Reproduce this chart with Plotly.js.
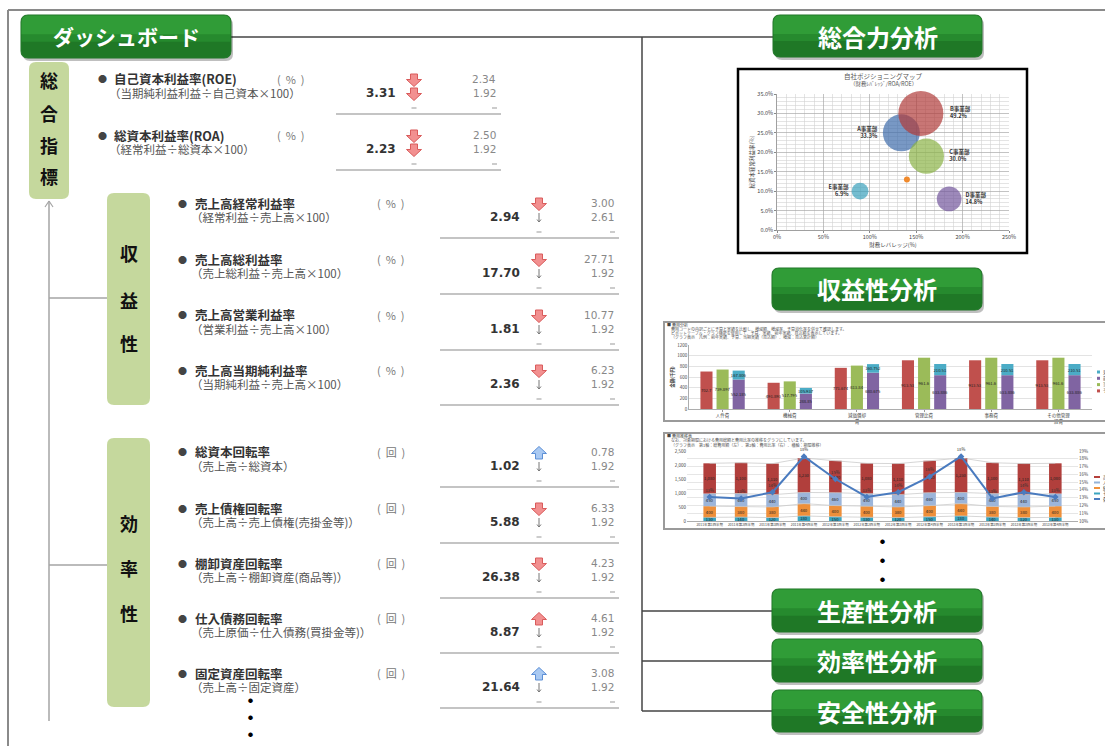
<!DOCTYPE html>
<html><head><meta charset="utf-8">
<script src="https://cdn.plot.ly/plotly-3.0.1.min.js"></script>
<style>html,body{margin:0;padding:0;background:#fff;overflow:hidden}#chart{width:1105px;height:746px}</style>
</head><body><div id="chart"></div>
<script>
// ================= DATA =================
// 総合力分析 : 自社ポジショニングマップ
const divisions = ["A事業部", "B事業部", "C事業部", "D事業部", "E事業部"];
const leverage = [134, 155, 161, 185.5, 89.5];        // 財務レバレッジ(%)
const ordinaryRoa = [25.0, 30.0, 19.0, 8.0, 10.0];   // 総資本経常利益率(%)
const roeShare = [33.3, 49.2, 30.0, 14.8, 6.9];      // bubble value (%)
const ownLeverage = [140];
const ownRoa = [13.0];

// 収益性分析 : 費用分析
const costCategories = ["人件費", "機械費", "減価償却<br>費", "管理比費", "事務費", "その他管理<br>経費"];
const budget = [702.70, 491.893, 771.674, 913.53, 913.53, 913.53];
const actual = [739.897, 517.795, 813.84, 961.6, 961.6, 961.6];
const prevYear = [552.185, 288.85, 680.675, 633.886, 633.886, 633.886];
const forecast = [167.806, 105.937, 160.752, 210.51, 210.51, 210.51];

// 費用推移表
const quarters = ["2011年第1四半期", "2011年第2四半期", "2011年第3四半期", "2011年第4四半期",
  "2012年第1四半期", "2012年第2四半期", "2012年第3四半期", "2012年第4四半期",
  "2013年第1四半期", "2013年第2四半期", "2013年第3四半期", "2013年第4四半期"];
const costOther = [130, 140, 120, 180, 150, 130, 120, 150, 180, 140, 120, 130];
const costExpense = [400, 380, 380, 440, 400, 400, 380, 400, 440, 380, 380, 400];
const costLabor = [450, 460, 440, 400, 460, 450, 440, 460, 400, 460, 440, 450];
const costSales = [1080, 1100, 1110, 1230, 1140, 1080, 1110, 1140, 1230, 1100, 1110, 1080];
const costRatio = [13.1, 12.9, 13.7, 18.3, 15.4, 13.1, 13.7, 15.7, 18.3, 12.9, 13.7, 13.1];

// ダッシュボード
const overallNames = ["自己資本利益率(ROE)", "総資本利益率(ROA)"];
const overallFormulas = ["（当期純利益利益÷自己資本×100）", "（経常利益÷総資本×100）"];
const overallUnits = ["%", "%"];
const overallValues = [3.31, 2.23];
const overallRef1 = [2.34, 2.50];
const overallRef2 = [1.92, 1.92];
const overallIcons = ["down-red", "down-red"];

const profitNames = ["売上高経常利益率", "売上高総利益率", "売上高営業利益率", "売上高当期純利益率"];
const profitFormulas = ["（経常利益÷売上高×100）", "（売上総利益÷売上高×100）", "（営業利益÷売上高×100）", "（当期純利益÷売上高×100）"];
const profitUnits = ["%", "%", "%", "%"];
const profitValues = [2.94, 17.70, 1.81, 2.36];
const profitRef1 = [3.00, 27.71, 10.77, 6.23];
const profitRef2 = [2.61, 1.92, 1.92, 1.92];
const profitIcons = ["down-red", "down-red", "down-red", "down-red"];

const effNames = ["総資本回転率", "売上債権回転率", "棚卸資産回転率", "仕入債務回転率", "固定資産回転率"];
const effFormulas = ["（売上高÷総資本）", "（売上高÷売上債権(売掛金等)）", "（売上高÷棚卸資産(商品等)）", "（売上原価÷仕入債務(買掛金等)）", "（売上高÷固定資産）"];
const effUnits = ["回", "回", "回", "回", "回"];
const effValues = [1.02, 5.88, 26.38, 8.87, 21.64];
const effRef1 = [0.78, 6.33, 4.23, 4.61, 3.08];
const effRef2 = [1.92, 1.92, 1.92, 1.92, 1.92];
const effIcons = ["up-blue", "down-red", "down-red", "up-red", "up-blue"];

// ================= HELPERS =================
const W = 1105, H = 746;
const X = p => p / W, Y = p => 1 - p / H;
const FONT = '"Noto Sans CJK JP", "Noto Sans", sans-serif';
const NUMFONT = '"DejaVu Sans", sans-serif';
const annotations = [], shapes = [];

function T(x, y, text, o) {
  o = o || {};
  const f = Object.assign({family: FONT, size: 11, color: '#333'}, o.font || {});
  const a = Object.assign({xref: 'paper', yref: 'paper', x: X(x), y: Y(y), text: text, showarrow: false,
    xanchor: 'left', yanchor: 'middle', borderpad: 0}, o);
  a.font = f;
  annotations.push(a);
}
function L(x0, y0, x1, y1, color, w) {
  shapes.push({type: 'line', xref: 'paper', yref: 'paper', x0: X(x0), y0: Y(y0), x1: X(x1), y1: Y(y1),
    line: {color: color, width: w}});
}
function R(x0, y0, x1, y1, color, w) {
  shapes.push({type: 'rect', xref: 'paper', yref: 'paper', x0: X(x0), y0: Y(y0), x1: X(x1), y1: Y(y1),
    line: {color: color, width: w}, fillcolor: 'rgba(0,0,0,0)'});
}
function P(path, fill, lc, lw, op) {
  shapes.push({type: 'path', xref: 'paper', yref: 'paper', path: path, fillcolor: fill,
    line: {color: lc || 'rgba(0,0,0,0)', width: lw || 0}, opacity: op == null ? 1 : op});
}
const pt = (x, y) => X(x).toFixed(5) + ',' + Y(y).toFixed(5);
function rr(x0, y0, x1, y1, r) {
  return 'M' + pt(x0 + r, y0) + ' L' + pt(x1 - r, y0) + ' Q' + pt(x1, y0) + ' ' + pt(x1, y0 + r) +
    ' L' + pt(x1, y1 - r) + ' Q' + pt(x1, y1) + ' ' + pt(x1 - r, y1) + ' L' + pt(x0 + r, y1) +
    ' Q' + pt(x0, y1) + ' ' + pt(x0, y1 - r) + ' L' + pt(x0, y0 + r) + ' Q' + pt(x0, y0) + ' ' + pt(x0 + r, y0) + ' Z';
}
function rrBottom(x0, y0, x1, y1, r) {
  return 'M' + pt(x0, y0) + ' L' + pt(x1, y0) + ' L' + pt(x1, y1 - r) + ' Q' + pt(x1, y1) + ' ' + pt(x1 - r, y1) +
    ' L' + pt(x0 + r, y1) + ' Q' + pt(x0, y1) + ' ' + pt(x0, y1 - r) + ' Z';
}
function rrTop(x0, y0, x1, y1, r) {
  return 'M' + pt(x0, y1) + ' L' + pt(x0, y0 + r) + ' Q' + pt(x0, y0) + ' ' + pt(x0 + r, y0) +
    ' L' + pt(x1 - r, y0) + ' Q' + pt(x1, y0) + ' ' + pt(x1, y0 + r) + ' L' + pt(x1, y1) + ' Z';
}
function greenButton(x0, y0, x1, y1, label, size) {
  P(rr(x0 + 2, y0 + 3, x1 + 2, y1 + 3, 7), 'rgba(0,0,0,0.25)');
  P(rr(x0, y0, x1, y1, 7), '#268a2e', '#1f7326', 1);
  P(rrTop(x0 + 0.5, y0 + 0.5, x1 - 0.5, y0 + (y1 - y0) * 0.45, 7), '#33a03a', null, 0, 0.8);
  P(rrBottom(x0 + 0.5, y0 + (y1 - y0) * 0.62, x1 - 0.5, y1 - 0.5, 7), '#1d7124', null, 0, 0.75);
  T((x0 + x1) / 2, (y0 + y1) / 2, '<b>' + label + '</b>', {xanchor: 'center', font: {size: size, color: '#fff'}});
}
function lightBox(x0, y0, x1, y1, chars, ys) {
  P(rr(x0, y0, x1, y1, 7), '#c5d89d');
  chars.forEach((c, i) => T((x0 + x1) / 2, ys[i], '<b>' + c + '</b>', {xanchor: 'center', font: {size: 18, color: '#111'}}));
}
function icon(cx, cy, kind) {
  const dir = kind.indexOf('up') === 0 ? -1 : 1;
  const blue = kind.indexOf('blue') > 0;
  const pts = [[-3.5, -6], [3.5, -6], [3.5, -0.5], [7.5, -0.5], [0, 6.5], [-7.5, -0.5], [-3.5, -0.5]];
  const path = 'M' + pts.map(p => pt(cx + p[0], cy + p[1] * dir)).join(' L') + ' Z';
  P(path, blue ? '#a9c9f2' : '#f29090', blue ? '#5c8fd6' : '#d95b5b', 1);
}

// group rows
function drawGroup(g, names, formulas, units, values, r1, r2, icons) {
  names.forEach((nm, i) => {
    const y = g.ys[i];
    T(g.bx, y, '●', {xanchor: 'center', font: {size: 9, color: '#444'}});
    T(g.tx, y, '<b>' + nm + '</b>', {font: {size: 12.5, color: '#333'}});
    T(g.ux, y, '(&nbsp;&nbsp;' + units[i] + '&nbsp;&nbsp;)', {font: {size: 11, color: '#777'}});
    T(g.fx, y + 14, formulas[i], {font: {size: 11.5, color: '#555'}});
    T(g.vx, y + 14, '<b>' + values[i].toFixed(2) + '</b>', {xanchor: 'right', font: {size: 12, color: '#333', family: NUMFONT}});
    T(g.rx, y, r1[i].toFixed(2), {xanchor: 'right', font: {size: 10.5, color: '#888', family: NUMFONT}});
    T(g.rx, y + 14, r2[i].toFixed(2), {xanchor: 'right', font: {size: 10.5, color: '#888', family: NUMFONT}});
    icon(g.ix, y + 1, icons[i]);
    if (g.bigMid) icon(g.ix, y + 15, icons[i]);
    else L(g.ix, y + 10, g.ix, y + 19, '#777', 1), L(g.ix - 2, y + 16.5, g.ix, y + 19, '#777', 1), L(g.ix + 2, y + 16.5, g.ix, y + 19, '#777', 1);
    L(g.ix - 2.5, y + 29, g.ix + 2.5, y + 29, '#999', 1);
    L(g.rx - 5, y + 29, g.rx, y + 29, '#999', 1);
    L(g.sx0, y + 35, g.sx1, y + 35, '#8a8a8a', 1.2);
  });
}

// ================= PAGE DECORATION =================
L(8, 10, 1105, 10, '#8a8a8a', 2);
L(8, 10, 8, 746, '#8a8a8a', 2);
// connectors (black)
L(231, 37, 773, 37, '#444', 1.5);
L(642, 37, 642, 711, '#444', 1.5);
[611, 661, 711].forEach(y => L(642, y, 772, y, '#444', 1.5));
// left tree (gray)
L(49, 201, 49, 721, '#a5a5a5', 1.5);
L(49, 201, 45, 207, '#a5a5a5', 1.2);
L(49, 201, 53, 207, '#a5a5a5', 1.2);
L(49, 298, 107, 298, '#a5a5a5', 1.5);
L(49, 565, 107, 565, '#a5a5a5', 1.5);

greenButton(21, 15, 231, 58, 'ダッシュボード', 21);
greenButton(773, 15, 982, 57, '総合力分析', 24);
greenButton(772, 268, 982, 310, '収益性分析', 24);
greenButton(772, 589, 982, 632, '生産性分析', 24);
greenButton(772, 639, 982, 682, '効率性分析', 24);
greenButton(772, 690, 982, 732, '安全性分析', 24);

lightBox(29, 62, 69, 199, ['総', '合', '指', '標'], [80, 113, 145, 176]);
lightBox(107, 193, 150, 405, ['収', '益', '性'], [253, 300, 343]);
lightBox(107, 438, 150, 707, ['効', '率', '性'], [523, 568, 613]);

drawGroup({bx: 102, tx: 113, ux: 276, fx: 108, vx: 397, ix: 414, rx: 497, sx0: 336, sx1: 501, ys: [79, 135], bigMid: true},
  overallNames, overallFormulas, overallUnits, overallValues, overallRef1, overallRef2, overallIcons);
drawGroup({bx: 182, tx: 194, ux: 376, fx: 190, vx: 521, ix: 539, rx: 615, sx0: 440, sx1: 619, ys: [203, 259, 315, 370]},
  profitNames, profitFormulas, profitUnits, profitValues, profitRef1, profitRef2, profitIcons);
drawGroup({bx: 182, tx: 194, ux: 376, fx: 190, vx: 521, ix: 539, rx: 615, sx0: 440, sx1: 619, ys: [452, 508, 563, 618, 673]},
  effNames, effFormulas, effUnits, effValues, effRef1, effRef2, effIcons);

[699, 716, 733].forEach(y => T(250, y, '●', {xanchor: 'center', font: {size: 5, color: '#000'}}));
[540, 559, 578].forEach(y => T(882, y, '●', {xanchor: 'center', font: {size: 5, color: '#000'}}));

// chart frames
R(738, 69, 1027, 253, '#000', 2.5);
R(664, 322, 1115, 421, '#9a9a9a', 2);
R(664, 433, 1115, 529, '#9a9a9a', 2);

// bubble chart titles
T(883, 76, '自社ポジショニングマップ', {xanchor: 'center', font: {size: 6.5, color: '#555'}});
T(883, 84, '（財務ﾚﾊﾞﾚｯｼﾞ/ROA/ROE）', {xanchor: 'center', font: {size: 5.5, color: '#555'}});

// chart1 header
T(666, 325, '■ 費用分析', {font: {size: 4, color: '#444'}});
T(670, 329, '費用コードの内訳ごとに予算と実績を比較し、増減額、増減率、予算消化率を併せて確認します。', {font: {size: 4, color: '#555'}});
T(670, 333, 'ピボットテーブル・グラフ機能を使用して、予算、実績、前年実績、見込額を表示しています。', {font: {size: 4, color: '#555'}});
T(670, 337, '（グラフ表示　凡例：前年実績、予算、当期実績（見込額）、増減：見込累計額）', {font: {size: 4, color: '#555'}});
// chart2 header
T(666, 436, '■ 費用推移表', {font: {size: 4, color: '#444'}});
T(670, 440, 'なお、対象期間における費用総額と費用比率の推移をグラフにしています。', {font: {size: 4, color: '#555'}});
T(670, 445, '（グラフ表示　第1軸：総費用額（左）、第2軸：費用比率（右）、横軸：期間推移）', {font: {size: 4, color: '#555'}});

// chart1 legend (cut at page edge as in the original)
const lg1 = [['#4bacc6', '見込額'], ['#8064a2', '前年実績'], ['#9bbb59', '当期実績'], ['#c0504d', '予算']];
lg1.forEach((d, i) => {
  const y = 372 + i * 6.3;
  shapes.push({type: 'rect', xref: 'paper', yref: 'paper', x0: X(1097), x1: X(1100), y0: Y(y - 1.5), y1: Y(y + 1.5), fillcolor: d[0], line: {width: 0}});
  T(1101.5, y, d[1], {font: {size: 4.5, color: '#333'}});
});
const lg2 = [['#b5403c', '売上原価'], ['#95b3d7', '人件費'], ['#f0913a', '経費'], ['#3aa4bf', 'その他'], ['#4a7bbf', '費用比率']];
lg2.forEach((d, i) => {
  const y = 477 + i * 5.5;
  shapes.push({type: 'rect', xref: 'paper', yref: 'paper', x0: X(1094), x1: X(1100), y0: Y(y - 1), y1: Y(y + 1), fillcolor: d[0], line: {width: 0}});
  T(1101.5, y, d[1], {font: {size: 4.5, color: '#333'}});
});

// ================= TRACES =================
const bubbleColors = ['#3f6cab', '#b13c3a', '#8bb447', '#74579c', '#3ba1bc'];
const labelPos = ['middle left', 'middle right', 'middle right', 'middle right', 'middle left'];
const maxShare = Math.max.apply(null, roeShare);
const traces = [];
divisions.forEach((d, i) => {
  traces.push({
    type: 'scatter', mode: 'markers+text', xaxis: 'x', yaxis: 'y',
    x: [leverage[i]], y: [ordinaryRoa[i]], text: ['<b>' + d + '<br>' + roeShare[i].toFixed(1) + '%</b>'],
    textposition: labelPos[i], textfont: {size: 5.5, color: '#333', family: FONT},
    marker: {size: [roeShare[i]], sizemode: 'area', sizeref: 2 * maxShare / (45 * 45), color: bubbleColors[i], line: {width: 0}},
    cliponaxis: false, hoverinfo: 'skip'
  });
});
traces.push({type: 'scatter', mode: 'markers', xaxis: 'x', yaxis: 'y', x: ownLeverage, y: ownRoa,
  marker: {size: 6, color: '#f08a2c'}, hoverinfo: 'skip'});

// chart1 bars
const barText = arr => arr.map(v => String(v));
const bt = {textposition: 'inside', insidetextanchor: 'middle', constraintext: 'none',
  textfont: {size: 4.2, color: '#222', family: FONT}, xaxis: 'x2', yaxis: 'y2', hoverinfo: 'skip', textangle: 0};
traces.push(Object.assign({type: 'bar', x: costCategories, y: budget, text: barText(budget), offsetgroup: 'a', marker: {color: '#c0504d'}}, bt));
traces.push(Object.assign({type: 'bar', x: costCategories, y: actual, text: barText(actual), offsetgroup: 'b', marker: {color: '#9bbb59'}}, bt));
traces.push(Object.assign({type: 'bar', x: costCategories, y: prevYear, text: barText(prevYear), offsetgroup: 'c', marker: {color: '#8064a2'}}, bt));
traces.push(Object.assign({type: 'bar', x: costCategories, y: forecast, base: prevYear, text: barText(forecast), offsetgroup: 'c', marker: {color: '#4bacc6'}}, bt));

// chart2 stacked bars
const cum = (a, b) => a.map((v, i) => v + b[i]);
const base1 = costOther.map(() => 0);
const base2 = costOther.slice();
const base3 = cum(costOther, costExpense);
const base4 = cum(base3, costLabor);
const totals = cum(base4, costSales);
// series lines joining the segment tops (Excel style)
[base2, base3, base4, totals].forEach(b => traces.push({type: 'scatter', mode: 'lines', x: quarters, y: b, xaxis: 'x3', yaxis: 'y3',
  line: {color: '#c4c4c4', width: 0.7}, hoverinfo: 'skip'}));
const fmt = arr => arr.map(v => v.toLocaleString('en-US'));
const st = {textposition: 'inside', insidetextanchor: 'middle', constraintext: 'none', width: 0.4, offsetgroup: 's',
  textfont: {size: 4.2, color: '#222', family: FONT}, xaxis: 'x3', yaxis: 'y3', hoverinfo: 'skip', textangle: 0};
traces.push(Object.assign({type: 'bar', x: quarters, y: costOther, base: base1, text: fmt(costOther), marker: {color: '#3aa4bf'}}, st));
traces.push(Object.assign({type: 'bar', x: quarters, y: costExpense, base: base2, text: fmt(costExpense), marker: {color: '#ee8f3a'}}, st));
traces.push(Object.assign({type: 'bar', x: quarters, y: costLabor, base: base3, text: fmt(costLabor), marker: {color: '#9cb5da'}}, st));
traces.push(Object.assign({type: 'bar', x: quarters, y: costSales, base: base4, text: fmt(costSales), marker: {color: '#b13f3c'}}, st));
traces.push({type: 'scatter', mode: 'lines+markers+text', x: quarters, y: costRatio, xaxis: 'x3', yaxis: 'y4',
  text: costRatio.map(v => Math.round(v) + '%'), textposition: 'top center', textfont: {size: 4.2, color: '#333'},
  line: {color: '#4a7bbf', width: 2}, marker: {symbol: 'diamond', size: 5, color: '#4a7bbf'}, hoverinfo: 'skip', cliponaxis: false});

const tf = (s) => ({size: s, color: '#444', family: FONT});
const layout = {
  width: W, height: H, margin: {l: 0, r: 0, t: 0, b: 0}, paper_bgcolor: '#fff', plot_bgcolor: '#fff',
  showlegend: false, font: {family: FONT}, barmode: 'group', bargap: 0.28, bargroupgap: 0.25,
  xaxis: {domain: [X(777), X(1009)], anchor: 'y', range: [0, 250], dtick: 50, ticksuffix: '%',
    showgrid: true, gridcolor: '#aaaaaa', gridwidth: 0.7, zeroline: false, showline: true, linecolor: '#888', linewidth: 0.8,
    minor: {dtick: 10, showgrid: true, gridcolor: '#d2d2d2', gridwidth: 0.6},
    tickfont: tf(5.5), ticks: 'outside', ticklen: 2, tickcolor: '#888',
    title: {text: '財務レバレッジ(%)', font: tf(5.5), standoff: 2}, fixedrange: true},
  yaxis: {domain: [Y(230), Y(94)], anchor: 'x', range: [0, 35], dtick: 5, tickformat: '.1f', ticksuffix: '%',
    showgrid: true, gridcolor: '#aaaaaa', gridwidth: 0.7, zeroline: false, showline: true, linecolor: '#888', linewidth: 0.8,
    minor: {dtick: 1, showgrid: true, gridcolor: '#d2d2d2', gridwidth: 0.6},
    tickfont: tf(5.5), ticks: 'outside', ticklen: 2, tickcolor: '#888',
    title: {text: '総資本経常利益率(%)', font: tf(5.5), standoff: 2}, fixedrange: true},
  xaxis2: {domain: [X(689), X(1092)], anchor: 'y2', type: 'category', tickfont: tf(4.5), showline: true, linecolor: '#999', linewidth: 0.8,
    ticks: 'outside', ticklen: 2, tickcolor: '#999', tickangle: 0},
  yaxis2: {domain: [Y(409), Y(345)], anchor: 'x2', range: [0, 1200], dtick: 200, tickfont: tf(4.5),
    gridcolor: '#d0d0d0', gridwidth: 0.6, zeroline: false, showline: true, linecolor: '#999', linewidth: 0.8,
    title: {text: '<b>金額(千円)</b>', font: tf(4.5), standoff: 2}},
  xaxis3: {domain: [X(687), X(1078)], anchor: 'y3', type: 'category', tickfont: tf(3.4), showline: true, linecolor: '#999', linewidth: 0.8,
    tickangle: 0, showgrid: false},
  yaxis3: {domain: [Y(521), Y(451)], anchor: 'x3', range: [0, 2500], dtick: 500, tickformat: ',d', tickfont: tf(4.5),
    showgrid: false, zeroline: false},
  yaxis4: {overlaying: 'y3', anchor: 'x3', side: 'right', range: [10, 19], dtick: 1, ticksuffix: '%', tickfont: tf(4.5),
    showgrid: true, gridcolor: '#d6d6d6', gridwidth: 0.6, zeroline: false},
  shapes: shapes, annotations: annotations
};

Plotly.newPlot('chart', traces, layout, {staticPlot: true, displayModeBar: false});
</script>
</body></html>
